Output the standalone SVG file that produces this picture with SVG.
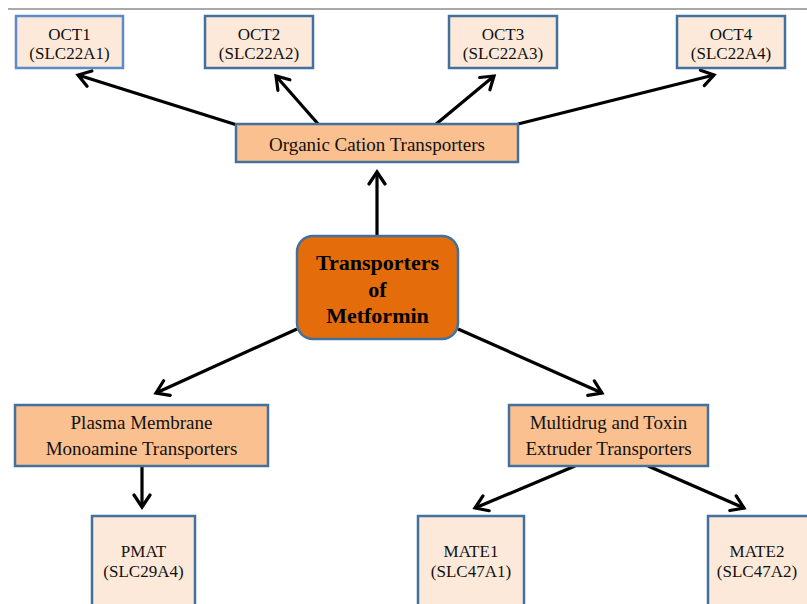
<svg xmlns="http://www.w3.org/2000/svg" width="807" height="604" viewBox="0 0 807 604">
<style>
.leaf{fill:#FDE9D9;stroke:#41719C;stroke-width:2.5}
.mid{fill:#FAC090;stroke:#41719C;stroke-width:2.5}
.t{font-family:"Liberation Serif","Times New Roman",serif;font-size:17px;fill:#111;text-anchor:middle}
.m{font-family:"Liberation Serif","Times New Roman",serif;font-size:19px;fill:#111;text-anchor:middle}
.b{font-family:"Liberation Serif","Times New Roman",serif;font-size:22px;font-weight:bold;fill:#000;text-anchor:middle}
.c{stroke:#000;stroke-width:3.2;fill:none;marker-end:url(#ah)}
</style>
<defs>
<marker id="ah" markerUnits="userSpaceOnUse" markerWidth="20" markerHeight="20" refX="14" refY="10" orient="auto" viewBox="0 0 20 20">
<path d="M2,2 L14,10 L2,18" fill="none" stroke="#000" stroke-width="3.2" stroke-linecap="round" stroke-linejoin="miter"/>
</marker>
</defs>
<line x1="8" y1="9" x2="807" y2="9" stroke="#555" stroke-width="1.2"/>
<g id="connectors">
<line class="c" x1="237" y1="125" x2="78" y2="75"/>
<line class="c" x1="319" y1="125" x2="276" y2="76"/>
<line class="c" x1="435" y1="125" x2="494" y2="76"/>
<line class="c" x1="518" y1="124" x2="714" y2="75"/>
<line class="c" x1="377" y1="237" x2="377" y2="172"/>
<line class="c" x1="297" y1="329" x2="156" y2="393"/>
<line class="c" x1="458" y1="329" x2="602" y2="393"/>
<line class="c" x1="142" y1="466" x2="142" y2="507"/>
<line class="c" x1="575" y1="466" x2="475" y2="508"/>
<line class="c" x1="648" y1="466" x2="744" y2="508"/>
</g>
<g id="oct1"><rect class="leaf" x="16" y="16" width="107" height="52" style="stroke:#5B8BC9"/><text class="t" x="69.5" y="40">OCT1</text><text class="t" x="69.5" y="59">(SLC22A1)</text></g>
<g id="oct2"><rect class="leaf" x="205" y="16" width="108" height="52"/><text class="t" x="259" y="40">OCT2</text><text class="t" x="259" y="59">(SLC22A2)</text></g>
<g id="oct3"><rect class="leaf" x="449" y="16" width="108" height="52"/><text class="t" x="503" y="40">OCT3</text><text class="t" x="503" y="59">(SLC22A3)</text></g>
<g id="oct4"><rect class="leaf" x="677" y="16" width="108" height="52"/><text class="t" x="731" y="40">OCT4</text><text class="t" x="731" y="59">(SLC22A4)</text></g>
<g id="oct"><rect class="mid" x="236" y="124" width="282" height="38"/><text class="m" x="377" y="151">Organic Cation Transporters</text></g>
<g id="center"><rect x="297" y="236" width="161" height="103" rx="16" fill="#E46C0A" stroke="#41719C" stroke-width="2.5"/><text class="b" x="377.5" y="270">Transporters</text><text class="b" x="377.5" y="297">of</text><text class="b" x="377.5" y="323">Metformin</text></g>
<g id="pmmt"><rect class="mid" x="15" y="405" width="253" height="61"/><text class="m" x="141.5" y="429">Plasma Membrane</text><text class="m" x="141.5" y="455">Monoamine Transporters</text></g>
<g id="mate"><rect class="mid" x="509" y="405" width="199" height="61"/><text class="m" x="608.5" y="429">Multidrug and Toxin</text><text class="m" x="608.5" y="455">Extruder Transporters</text></g>
<g id="pmat"><rect class="leaf" x="92" y="516" width="103" height="100"/><text class="t" x="143.5" y="557">PMAT</text><text class="t" x="143.5" y="577">(SLC29A4)</text></g>
<g id="mate1"><rect class="leaf" x="418" y="516" width="106" height="100"/><text class="t" x="471" y="557">MATE1</text><text class="t" x="471" y="577">(SLC47A1)</text></g>
<g id="mate2"><rect class="leaf" x="708" y="516" width="106" height="100"/><text class="t" x="757" y="557">MATE2</text><text class="t" x="757" y="577">(SLC47A2)</text></g>
</svg>
